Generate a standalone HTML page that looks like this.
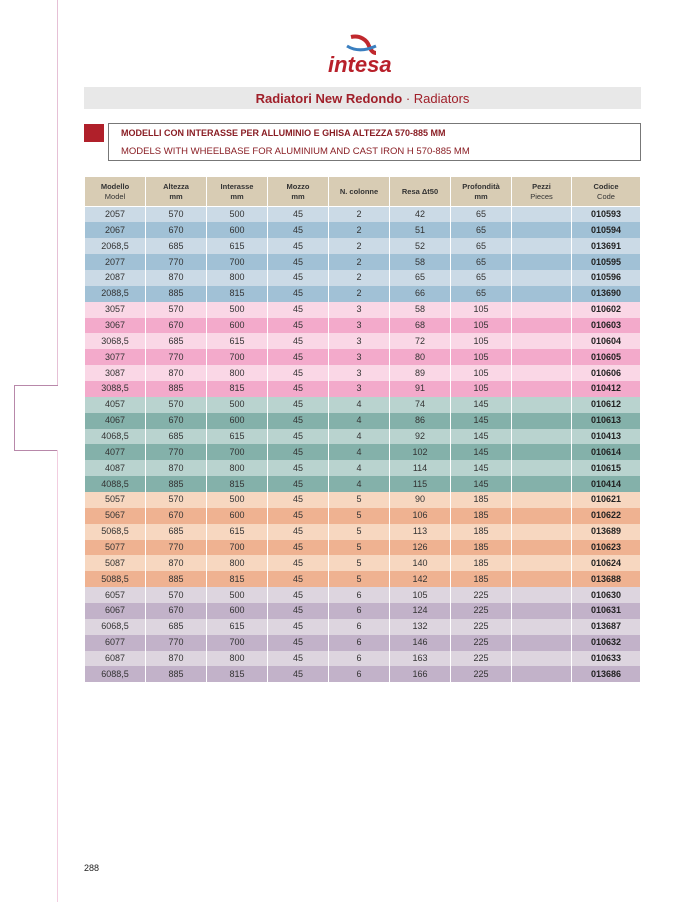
<!DOCTYPE html>
<html><head><meta charset="utf-8"><style>
body{margin:0;width:697px;height:902px;position:relative;background:#fff;font-family:"Liberation Sans",sans-serif;overflow:hidden}
.a{position:absolute}
table{position:absolute;left:84px;top:177px;width:556px;border-collapse:collapse;table-layout:fixed;font-size:9px;color:#333}
td{text-align:center;padding:0;height:15.87px;border-left:1.5px solid #fff;border-right:1.5px solid #fff;line-height:15px;white-space:nowrap;box-sizing:border-box}
tr{height:15.87px}
th{background:#d8ccb4;height:29px;font-size:7.5px;font-weight:bold;color:#333;border:1.5px solid #fff;border-top:0;line-height:10px;padding:0}
th span{font-weight:normal}
td:last-child{font-weight:bold;color:#222}
.b1{background:#cbdae6}.b2{background:#a1c1d6}
.p1{background:#fad7e6}.p2{background:#f3aacb}
.t1{background:#b9d3cf}.t2{background:#84b1aa}
.o1{background:#f7d7c0}.o2{background:#efb291}
.v1{background:#ddd5df}.v2{background:#c2b2c9}
</style></head><body>
<div class="a" style="left:57px;top:0;width:1px;height:386px;background:#e6c0d6"></div>
<div class="a" style="left:14px;top:385px;width:44px;height:1px;background:#b888aa"></div>
<div class="a" style="left:14px;top:385px;width:1px;height:66px;background:#b888aa"></div>
<div class="a" style="left:14px;top:450px;width:44px;height:1px;background:#b888aa"></div>
<div class="a" style="left:57px;top:450px;width:1px;height:452px;background:#f2cde0"></div>
<svg class="a" style="left:342px;top:34px" width="40" height="22"><path d="M9 3 C18 1 25 6 27 12 C29 17 31 19 34 19" stroke="#c0282d" stroke-width="4" fill="none"/><path d="M5 12 C13 17 23 17 34 12" stroke="#3a7fc0" stroke-width="3" fill="none"/></svg>
<div class="a" style="left:328px;top:52px;font-size:22px;font-weight:bold;font-style:italic;color:#b8202a">intesa</div>
<div class="a" style="left:84px;top:87px;width:557px;height:22px;background:#e8e8e8;text-align:center;line-height:23px;font-size:13px;color:#a0202a"><b style="font-weight:600">Radiatori New Redondo</b> · Radiators</div>
<div class="a" style="left:84px;top:124px;width:20px;height:18px;background:#b0202a"></div>
<div class="a" style="left:108px;top:123px;width:531px;height:36px;border:1px solid #777"></div>
<div class="a" style="left:121px;top:128px;font-size:9px;font-weight:bold;color:#8a1e24">MODELLI CON INTERASSE PER ALLUMINIO E GHISA ALTEZZA 570-885 MM</div>
<div class="a" style="left:121px;top:146px;font-size:9.5px;color:#8a1e24">MODELS WITH WHEELBASE FOR ALUMINIUM AND CAST IRON H 570-885 MM</div>
<table>
<colgroup><col style="width:61px"><col style="width:61px"><col style="width:61px"><col style="width:61px"><col style="width:61px"><col style="width:61px"><col style="width:61px"><col style="width:60px"><col style="width:69px"></colgroup>
<tr style="height:29px"><th>Modello<br><span>Model</span></th><th>Altezza<br>mm</th><th>Interasse<br>mm</th><th>Mozzo<br>mm</th><th>N. colonne</th><th>Resa Δt50</th><th>Profondità<br>mm</th><th>Pezzi<br><span>Pieces</span></th><th>Codice<br><span>Code</span></th></tr>
<tr class="b1"><td>2057</td><td>570</td><td>500</td><td>45</td><td>2</td><td>42</td><td>65</td><td></td><td>010593</td></tr>
<tr class="b2"><td>2067</td><td>670</td><td>600</td><td>45</td><td>2</td><td>51</td><td>65</td><td></td><td>010594</td></tr>
<tr class="b1"><td>2068,5</td><td>685</td><td>615</td><td>45</td><td>2</td><td>52</td><td>65</td><td></td><td>013691</td></tr>
<tr class="b2"><td>2077</td><td>770</td><td>700</td><td>45</td><td>2</td><td>58</td><td>65</td><td></td><td>010595</td></tr>
<tr class="b1"><td>2087</td><td>870</td><td>800</td><td>45</td><td>2</td><td>65</td><td>65</td><td></td><td>010596</td></tr>
<tr class="b2"><td>2088,5</td><td>885</td><td>815</td><td>45</td><td>2</td><td>66</td><td>65</td><td></td><td>013690</td></tr>
<tr class="p1"><td>3057</td><td>570</td><td>500</td><td>45</td><td>3</td><td>58</td><td>105</td><td></td><td>010602</td></tr>
<tr class="p2"><td>3067</td><td>670</td><td>600</td><td>45</td><td>3</td><td>68</td><td>105</td><td></td><td>010603</td></tr>
<tr class="p1"><td>3068,5</td><td>685</td><td>615</td><td>45</td><td>3</td><td>72</td><td>105</td><td></td><td>010604</td></tr>
<tr class="p2"><td>3077</td><td>770</td><td>700</td><td>45</td><td>3</td><td>80</td><td>105</td><td></td><td>010605</td></tr>
<tr class="p1"><td>3087</td><td>870</td><td>800</td><td>45</td><td>3</td><td>89</td><td>105</td><td></td><td>010606</td></tr>
<tr class="p2"><td>3088,5</td><td>885</td><td>815</td><td>45</td><td>3</td><td>91</td><td>105</td><td></td><td>010412</td></tr>
<tr class="t1"><td>4057</td><td>570</td><td>500</td><td>45</td><td>4</td><td>74</td><td>145</td><td></td><td>010612</td></tr>
<tr class="t2"><td>4067</td><td>670</td><td>600</td><td>45</td><td>4</td><td>86</td><td>145</td><td></td><td>010613</td></tr>
<tr class="t1"><td>4068,5</td><td>685</td><td>615</td><td>45</td><td>4</td><td>92</td><td>145</td><td></td><td>010413</td></tr>
<tr class="t2"><td>4077</td><td>770</td><td>700</td><td>45</td><td>4</td><td>102</td><td>145</td><td></td><td>010614</td></tr>
<tr class="t1"><td>4087</td><td>870</td><td>800</td><td>45</td><td>4</td><td>114</td><td>145</td><td></td><td>010615</td></tr>
<tr class="t2"><td>4088,5</td><td>885</td><td>815</td><td>45</td><td>4</td><td>115</td><td>145</td><td></td><td>010414</td></tr>
<tr class="o1"><td>5057</td><td>570</td><td>500</td><td>45</td><td>5</td><td>90</td><td>185</td><td></td><td>010621</td></tr>
<tr class="o2"><td>5067</td><td>670</td><td>600</td><td>45</td><td>5</td><td>106</td><td>185</td><td></td><td>010622</td></tr>
<tr class="o1"><td>5068,5</td><td>685</td><td>615</td><td>45</td><td>5</td><td>113</td><td>185</td><td></td><td>013689</td></tr>
<tr class="o2"><td>5077</td><td>770</td><td>700</td><td>45</td><td>5</td><td>126</td><td>185</td><td></td><td>010623</td></tr>
<tr class="o1"><td>5087</td><td>870</td><td>800</td><td>45</td><td>5</td><td>140</td><td>185</td><td></td><td>010624</td></tr>
<tr class="o2"><td>5088,5</td><td>885</td><td>815</td><td>45</td><td>5</td><td>142</td><td>185</td><td></td><td>013688</td></tr>
<tr class="v1"><td>6057</td><td>570</td><td>500</td><td>45</td><td>6</td><td>105</td><td>225</td><td></td><td>010630</td></tr>
<tr class="v2"><td>6067</td><td>670</td><td>600</td><td>45</td><td>6</td><td>124</td><td>225</td><td></td><td>010631</td></tr>
<tr class="v1"><td>6068,5</td><td>685</td><td>615</td><td>45</td><td>6</td><td>132</td><td>225</td><td></td><td>013687</td></tr>
<tr class="v2"><td>6077</td><td>770</td><td>700</td><td>45</td><td>6</td><td>146</td><td>225</td><td></td><td>010632</td></tr>
<tr class="v1"><td>6087</td><td>870</td><td>800</td><td>45</td><td>6</td><td>163</td><td>225</td><td></td><td>010633</td></tr>
<tr class="v2"><td>6088,5</td><td>885</td><td>815</td><td>45</td><td>6</td><td>166</td><td>225</td><td></td><td>013686</td></tr>
</table>
<div class="a" style="left:84px;top:863px;font-size:9px;color:#222">288</div>
</body></html>
